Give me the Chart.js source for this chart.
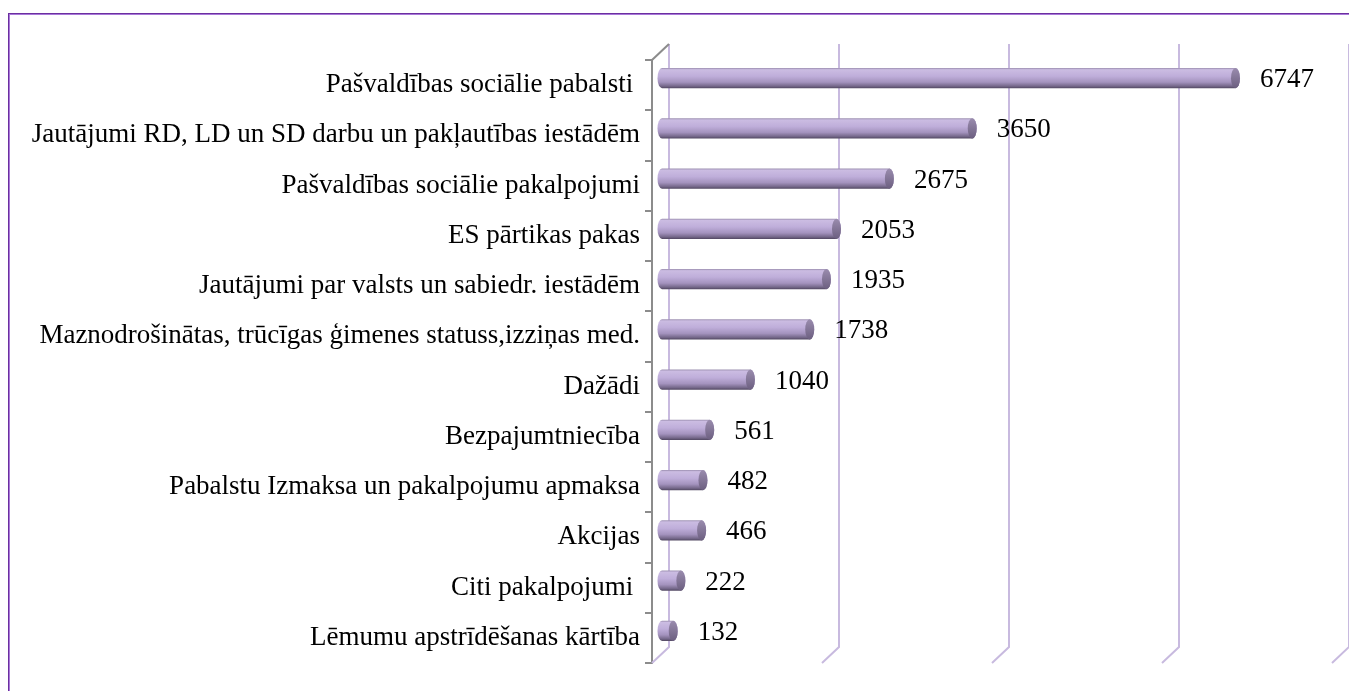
<!DOCTYPE html>
<html>
<head>
<meta charset="utf-8">
<script src="https://cdn.jsdelivr.net/npm/chart.js@4.4.1/dist/chart.umd.min.js"></script>
<style>
  html, body { margin: 0; padding: 0; background: #ffffff; overflow: hidden; }
  #frame { position: absolute; left: 8px; top: 13px; width: 1400px; height: 760px;
           border: 1px solid #6B2FA0; box-shadow: inset 1px 1px 0 #A878D8; }
  #c { position: absolute; left: 0; top: 0; }
</style>
</head>
<body>
<div id="frame"></div>
<canvas id="c" width="1349" height="691"></canvas>
<script>
const categories = [
  "Pašvaldības sociālie pabalsti ",
  "Jautājumi RD, LD un SD darbu un pakļautības iestādēm",
  "Pašvaldības sociālie pakalpojumi",
  "ES pārtikas pakas",
  "Jautājumi par valsts un sabiedr. iestādēm",
  "Maznodrošinātas, trūcīgas ģimenes statuss,izziņas med.",
  "Dažādi",
  "Bezpajumtniecība",
  "Pabalstu Izmaksa un pakalpojumu apmaksa",
  "Akcijas",
  "Citi pakalpojumi ",
  "Lēmumu apstrīdēšanas kārtība"
];
const values = [6747, 3650, 2675, 2053, 1935, 1738, 1040, 561, 482, 466, 222, 132];
const axisMin = 0;
const axisMax = 8000;
const axisStep = 2000;

const FONT = "'Liberation Serif', 'Times New Roman', serif";
const DEPTH_X = 17, DEPTH_Y = -16;      // 3D wall offset
const BAR_DX = 10, BAR_DY = -7;         // bars sit mid-depth
const GRID_COLOR = '#C8BADF';

const wallPlugin = {
  id: 'wall',
  beforeDatasetsDraw(chart) {
    const ctx = chart.ctx;
    const xs = chart.scales.x, ys = chart.scales.y;
    const top = ys.top, bottom = ys.bottom;
    ctx.save();
    ctx.lineWidth = 2;
    ctx.strokeStyle = GRID_COLOR;
    for (let v = axisMin; v <= axisMax; v += axisStep) {
      const px = xs.getPixelForValue(v);
      ctx.beginPath();
      ctx.moveTo(px + DEPTH_X, top + DEPTH_Y);
      ctx.lineTo(px + DEPTH_X, bottom + DEPTH_Y);
      ctx.lineTo(px, bottom);
      ctx.stroke();
    }
    // top-left diagonal of the category axis
    ctx.strokeStyle = '#8C8C8C';
    ctx.beginPath();
    ctx.moveTo(xs.left, top);
    ctx.lineTo(xs.left + DEPTH_X, top + DEPTH_Y);
    ctx.stroke();
    ctx.restore();
  }
};

const cylPlugin = {
  id: 'cyl',
  afterDatasetsDraw(chart) {
    const ctx = chart.ctx;
    const meta = chart.getDatasetMeta(0);
    ctx.save();
    meta.data.forEach((el, i) => {
      const p = el.getProps(['x', 'y', 'base', 'height'], true);
      const x0 = p.base + BAR_DX, x1 = p.x + BAR_DX;
      const cy = p.y + BAR_DY;
      const h = p.height, r = h / 2, rx = 4.5;
      const g = ctx.createLinearGradient(0, cy - r, 0, cy + r);
      g.addColorStop(0, '#9C8FB0');
      g.addColorStop(0.08, '#CBBCE2');
      g.addColorStop(0.4, '#BFAEDA');
      g.addColorStop(0.7, '#A493BE');
      g.addColorStop(0.9, '#75688A');
      g.addColorStop(1, '#524862');
      ctx.fillStyle = g;
      ctx.beginPath();
      ctx.ellipse(x0, cy, rx, r, 0, Math.PI / 2, Math.PI * 1.5, false);
      ctx.lineTo(x1, cy - r);
      ctx.ellipse(x1, cy, rx, r, 0, -Math.PI / 2, Math.PI / 2, false);
      ctx.closePath();
      ctx.fill();
      // end cap
      const gc = ctx.createLinearGradient(0, cy - r, 0, cy + r);
      gc.addColorStop(0, '#9A8CAE');
      gc.addColorStop(1, '#6C5F80');
      ctx.fillStyle = gc;
      ctx.beginPath();
      ctx.ellipse(x1, cy, rx, r, 0, 0, Math.PI * 2);
      ctx.fill();
      // value label
      ctx.fillStyle = '#000000';
      ctx.font = '27px ' + FONT;
      ctx.textAlign = 'left';
      ctx.textBaseline = 'middle';
      ctx.fillText(String(values[i]), x1 + rx + 20, cy + 2);
    });
    ctx.restore();
  }
};

new Chart(document.getElementById('c'), {
  type: 'bar',
  data: {
    labels: categories,
    datasets: [{
      data: values,
      backgroundColor: 'rgba(0,0,0,0)',
      borderWidth: 0,
      barPercentage: 0.4,
      categoryPercentage: 1.0
    }]
  },
  options: {
    indexAxis: 'y',
    responsive: false,
    animation: false,
    devicePixelRatio: 1,
    layout: { padding: { left: 0, right: 17, top: 60, bottom: 28 } },
    plugins: { legend: { display: false }, tooltip: { enabled: false } },
    scales: {
      x: {
        display: false,
        min: axisMin, max: axisMax,
        ticks: { stepSize: axisStep }
      },
      y: {
        afterFit(scale) { scale.width = 652; },
        grid: { drawOnChartArea: false, drawTicks: true, tickLength: 7, color: '#8C8C8C', lineWidth: 2, offset: true },
        border: { color: '#8C8C8C', width: 2 },
        ticks: { color: '#000000', padding: 5, font: { family: FONT, size: 27 } }
      }
    }
  },
  plugins: [wallPlugin, cylPlugin]
});
</script>
</body>
</html>
